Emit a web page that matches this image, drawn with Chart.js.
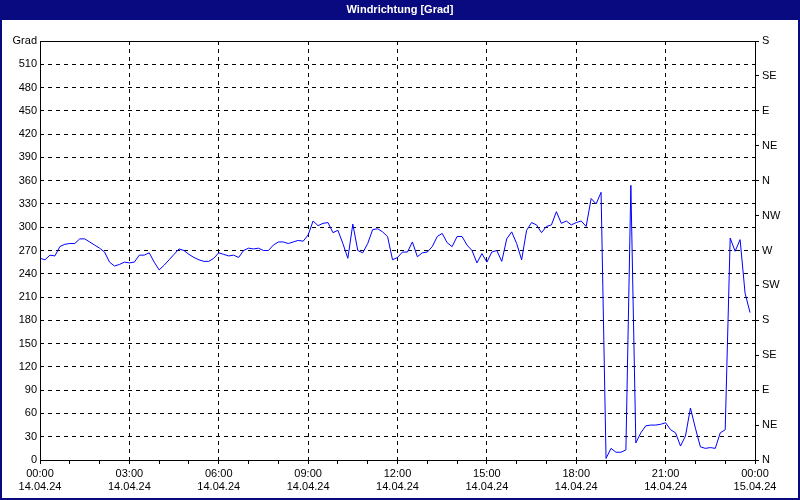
<!DOCTYPE html>
<html>
<head>
<meta charset="utf-8">
<script src="https://cdn.jsdelivr.net/npm/chart.js@4"></script>
<style>
  body { margin: 0; background: #fff; }
  #wrap { width: 800px; height: 500px; }
</style>
</head>
<body>
<div id="wrap"><canvas id="wind" width="800" height="500"></canvas></div>
<script>
// Windrichtung in Grad, alle 10 Minuten ab 14.04.24 00:00
const stepMinutes = 10;
const windDir = [
  260, 258, 264, 263, 275, 278, 279, 279, 285, 285, 281, 277, 273, 268, 255, 250,
  252, 255, 254, 255, 264, 264, 267, 255, 245, 251, 258, 265, 272, 270, 265, 261,
  258, 256, 256, 260, 267, 265, 263, 264, 261, 270, 273, 272, 273, 270, 270, 277,
  281, 281, 279, 281, 283, 282, 290, 308, 302, 305, 306, 293, 296, 279, 260, 304,
  270, 267, 279, 297, 298, 294, 288, 258, 261,
  268, 268, 281, 262, 267, 268, 275, 288, 292, 280, 275, 288, 288, 277, 270, 254,
  266, 255, 268, 270, 256, 285, 294, 279, 258, 296, 306, 303, 293, 301, 303, 320,
  305, 308, 303, 306, 308, 301, 337, 330, 345,
  2, 15, 10, 10, 13, 354, 22, 35, 44, 45, 45, 46, 48, 39, 35, 18, 31, 67, 41, 17,
  15, 16, 15, 35, 39, 286, 269, 284, 215, 190
];
const timeLabels = ['00:00', '03:00', '06:00', '09:00', '12:00', '15:00', '18:00', '21:00', '00:00'];
const dateLabels = ['14.04.24', '14.04.24', '14.04.24', '14.04.24', '14.04.24', '14.04.24', '14.04.24', '14.04.24', '15.04.24'];
const compassLabels = ['N', 'NE', 'E', 'SE', 'S', 'SW', 'W', 'NW'];

const points = windDir.map((v, i) => ({ x: i * stepMinutes, y: v }));
const font = { family: 'Liberation Sans', size: 11 };

// Titelleiste und Rahmen
const frame = {
    id: 'frame',
    beforeDraw(chart) {
        const c = chart.ctx;
        c.save();
        c.fillStyle = '#fff';
        c.fillRect(0, 0, 800, 500);
        c.fillStyle = '#0a0a80';
        c.fillRect(0, 0, 800, 20);
        c.fillRect(0, 0, 2, 500);
        c.fillRect(798, 0, 2, 500);
        c.fillRect(0, 498, 800, 2);
        c.fillStyle = '#fff';
        c.font = 'bold 11px "Liberation Sans"';
        c.textAlign = 'center';
        c.textBaseline = 'middle';
        c.fillText('Windrichtung [Grad]', 400, 10);
        c.restore();
    },
    afterDraw(chart) {
        const a = chart.chartArea;
        const c = chart.ctx;
        c.save();
        c.strokeStyle = '#000';
        c.lineWidth = 1;
        c.strokeRect(a.left + 0.5, a.top + 0.5, a.right - a.left, a.bottom - a.top);
        c.restore();
    }
};

new Chart(document.getElementById('wind').getContext('2d'), {
    type: 'line',
    data: {
        datasets: [{
            data: points,
            borderColor: '#0000ff',
            borderWidth: 1,
            pointRadius: 0,
            tension: 0,
            yAxisID: 'y'
        }]
    },
    options: {
        responsive: false,
        animation: false,
        layout: { padding: { left: 2, right: 0, top: 41, bottom: 2 } },
        plugins: { legend: { display: false }, tooltip: { enabled: false } },
        scales: {
            x: {
                type: 'linear',
                min: 0,
                max: 1440,
                afterFit: s => { s.height = 38; },
                ticks: {
                    stepSize: 60,
                    autoSkip: false,
                    maxRotation: 0,
                    color: '#000',
                    font: font,
                    callback: v => v % 180 === 0 ? [timeLabels[v / 180], dateLabels[v / 180]] : ''
                },
                grid: {
                    color: c => (c.tick && c.tick.value % 180 === 0) ? '#000' : 'rgba(0,0,0,0)',
                    tickColor: '#000',
                    tickLength: 4
                },
                border: { display: false, dash: [4, 4] }
            },
            y: {
                position: 'left',
                min: 0,
                max: 540,
                afterFit: s => { s.width = 38; },
                ticks: {
                    stepSize: 30,
                    color: '#000',
                    font: font,
                    callback: v => v === 540 ? 'Grad' : v
                },
                grid: { color: '#000', drawTicks: false },
                border: { display: false, dash: [4, 4] }
            },
            y2: {
                position: 'right',
                min: 0,
                max: 540,
                afterFit: s => { s.width = 45; },
                ticks: {
                    stepSize: 45,
                    color: '#000',
                    font: font,
                    callback: v => compassLabels[(v / 45) % 8]
                },
                grid: { drawOnChartArea: false, tickColor: '#000', tickLength: 4 },
                border: { display: false }
            }
        }
    },
    plugins: [frame]
});
</script>
</body>
</html>
